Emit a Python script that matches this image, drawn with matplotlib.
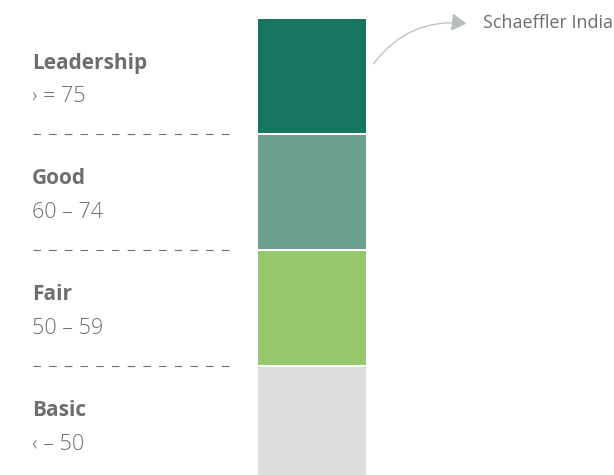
import matplotlib.pyplot as plt
from matplotlib.patches import FancyArrowPatch

plt.rcParams['font.family'] = ['Open Sans', 'DejaVu Sans']
plt.rcParams['lines.scale_dashes'] = False

# score bands, top to bottom
categories = ['Leadership', 'Good', 'Fair', 'Basic']
ranges = ['\u203a = 75', '60 \u2013 74', '50 \u2013 59', '\u2039 \u2013 50']
band_colors = ['#177560', '#6aa08f', '#95c96c', '#dcdddf']
company = 'Schaeffler India'
company_band = 'Leadership'

text_gray = '#6d6e70'

fig = plt.figure(figsize=(6.14, 4.75), dpi=100)
ax = fig.add_axes([0, 0, 1, 1])
ax.set_xlim(0, 614)
ax.set_ylim(475, 0)
ax.axis('off')

top = 19
step = 116
band_h = 114
bar_x, bar_w = 258, 108

for i, (cat, rng, col) in enumerate(zip(categories, ranges, band_colors)):
    y0 = top + i * step
    h = band_h if i < len(categories) - 1 else 475 - y0
    ax.bar(bar_x, h, width=bar_w, bottom=y0, align='edge', color=col,
           linewidth=0)
    ax.text(32, y0 + 44, cat, fontsize=15, fontweight='bold',
            color=text_gray, va='center', ha='left')
    ax.text(32, y0 + 78, rng, fontsize=15.5, fontweight='light',
            color=text_gray, va='center', ha='left')
    if i < len(categories) - 1:
        ax.plot([33, 229], [y0 + 114.5, y0 + 114.5], color=text_gray,
                linewidth=0.8, dashes=(5.4, 5.9))

# pointer from the company's band to its label
k = categories.index(company_band)
arrow = FancyArrowPatch((372, top + k * step + 47), (469, 24),
                        connectionstyle='arc3,rad=-0.3',
                        arrowstyle='-|>,head_length=9,head_width=5.5',
                        color='#b7bfbb', linewidth=0.9, mutation_scale=1)
ax.add_patch(arrow)
ax.text(483, 23, company, fontsize=13, color=text_gray,
        va='center', ha='left')

fig.savefig('out.png', dpi=100)
